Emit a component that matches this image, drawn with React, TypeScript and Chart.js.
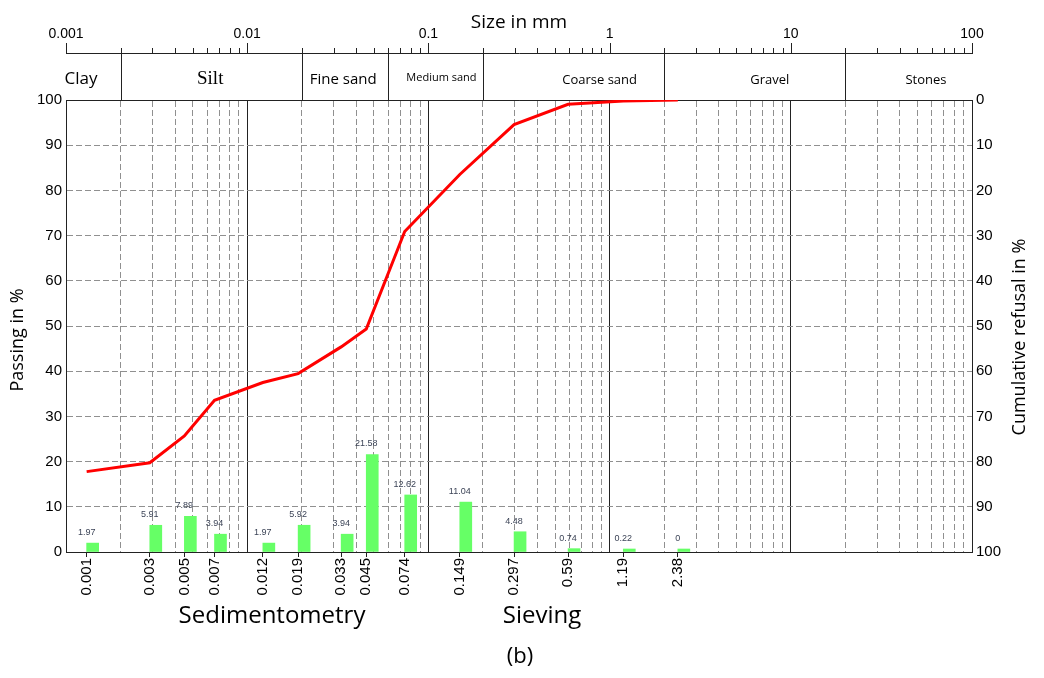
import React, { useEffect, useRef } from 'react';
import { Chart, registerables } from 'chart.js';

Chart.register(...registerables);

// ---- data ----
const sizeLabels = ['0.001', '0.003', '0.005', '0.007', '0.012', '0.019', '0.033', '0.045', '0.074', '0.149', '0.297', '0.59', '1.19', '2.38'];
const sizes = [0.0013, 0.0029, 0.0045, 0.0066, 0.0122, 0.0191, 0.033, 0.0454, 0.074, 0.149, 0.297, 0.59, 1.19, 2.38];
const retained = [1.97, 5.91, 7.89, 3.94, 1.97, 5.92, 3.94, 21.58, 12.62, 11.04, 4.48, 0.74, 0.22, 0];
const passing = [17.78, 19.75, 25.66, 33.55, 37.49, 39.46, 45.38, 49.32, 70.9, 83.52, 94.56, 99.04, 99.78, 100];
const topDecades = [0.001, 0.01, 0.1, 1, 10, 100];
const topTickLabels = ['0.001', '0.01', '0.1', '1', '10', '100'];
const bandEdges = [0.002, 0.02, 0.06, 0.2, 2, 20];
const bandNames = ['Clay', 'Silt', 'Fine sand', 'Medium sand', 'Coarse sand', 'Gravel', 'Stones'];
const bandLabelAt = [0.00121, 0.00625, 0.0339, 0.118, 0.881, 7.66, 55.7];

const SANS = '"Liberation Sans", Arial, sans-serif';
const CAL = '"Open Sans", "Noto Sans", sans-serif';
const SERIF = '"Liberation Serif", "Times New Roman", serif';

const minorTicks: number[] = [];
for (let d = 0; d < 5; d++) {
  const dec = topDecades[d];
  for (let m = 1; m <= 9; m++) minorTicks.push(parseFloat((m * dec).toPrecision(3)));
}
minorTicks.push(100);

const isDecade = (v: number) => {
  if (!v) return false;
  const l = Math.log10(v);
  return Math.abs(l - Math.round(l)) < 1e-6;
};

const bandFonts = [
  `17px ${CAL}`,
  `19px ${SERIF}`,
  `15px ${CAL}`,
  `11px ${CAL}`,
  `13px ${CAL}`,
  `13px ${CAL}`,
  `13px ${CAL}`,
];

const overlay = {
  id: 'overlay',
  afterDatasetsDraw(chart: any) {
    const ctx = chart.ctx;
    const xs = chart.scales.x;
    const meta = chart.getDatasetMeta(1);
    ctx.save();
    ctx.font = `9px ${SANS}`;
    ctx.fillStyle = '#3c4457';
    ctx.textAlign = 'center';
    ctx.textBaseline = 'alphabetic';
    meta.data.forEach((el: any, i: number) => {
      const x = xs.getPixelForValue(sizes[i]);
      ctx.fillText(String(retained[i]), x, el.y - 8);
    });
    ctx.restore();
  },
  afterDraw(chart: any) {
    const ctx = chart.ctx;
    const xt = chart.scales.xt;
    const { left, right, top } = chart.chartArea;
    const axisY = 53;
    ctx.save();
    ctx.strokeStyle = '#222';
    ctx.lineWidth = 1;
    ctx.beginPath();
    ctx.moveTo(left, axisY + 0.5);
    ctx.lineTo(right + 1, axisY + 0.5);
    ctx.stroke();
    minorTicks.forEach((v) => {
      const px = Math.round(xt.getPixelForValue(v)) + 0.5;
      const len = isDecade(v) ? 10 : 5;
      ctx.beginPath();
      ctx.moveTo(px, axisY);
      ctx.lineTo(px, axisY - len);
      ctx.stroke();
    });
    bandEdges.forEach((v) => {
      const px = Math.round(xt.getPixelForValue(v)) + 0.5;
      ctx.beginPath();
      ctx.moveTo(px, axisY);
      ctx.lineTo(px, top);
      ctx.stroke();
    });
    ctx.fillStyle = '#000';
    ctx.font = `14px ${SANS}`;
    ctx.textAlign = 'center';
    ctx.textBaseline = 'alphabetic';
    topDecades.forEach((v, i) => {
      ctx.fillText(topTickLabels[i], xt.getPixelForValue(v), 38);
    });
    ctx.font = `19px ${CAL}`;
    ctx.fillText('Size in mm', (left + right) / 2, 28);
    bandNames.forEach((n, i) => {
      ctx.font = bandFonts[i];
      ctx.fillText(n, xt.getPixelForValue(bandLabelAt[i]), i === 3 ? 81 : 84);
    });
    ctx.font = `24px ${CAL}`;
    ctx.fillText('Sedimentometry', 272, 623);
    ctx.fillText('Sieving', 542, 623);
    ctx.font = `22px ${CAL}`;
    ctx.fillText('(b)', 520, 663);
    ctx.textBaseline = 'middle';
    ctx.save();
    ctx.translate(18, 340);
    ctx.rotate(-Math.PI / 2);
    ctx.font = `18px ${CAL}`;
    ctx.fillText('Passing in %', 0, 0);
    ctx.restore();
    ctx.save();
    ctx.translate(1020, 337);
    ctx.rotate(-Math.PI / 2);
    ctx.font = `18px ${CAL}`;
    ctx.fillText('Cumulative refusal in %', 0, 0);
    ctx.restore();
    ctx.restore();
  },
};

const gridGray = '#909090';
const frame = '#222';

export default function App() {
  const ref = useRef<HTMLCanvasElement | null>(null);
  useEffect(() => {
    document.body.style.margin = '0';
    const canvas = ref.current;
    if (!canvas) return;
    Chart.defaults.font.family = SANS;
    const chart = new Chart(canvas, {
      type: 'bar',
      data: {
        datasets: [
          {
            // empty slot so each bar sits just right of its size tick
            type: 'bar',
            label: '',
            data: [],
            xAxisID: 'x',
            yAxisID: 'y',
            barThickness: 12,
            order: 1,
          } as any,
          {
            type: 'bar',
            label: 'Retained',
            data: sizes.map((s, i) => ({ x: s, y: retained[i] })),
            xAxisID: 'x',
            yAxisID: 'y',
            backgroundColor: '#66ff66',
            borderWidth: 0,
            barThickness: 12,
            minBarLength: 3,
            order: 2,
          } as any,
          {
            type: 'line',
            label: 'Passing',
            data: sizes.map((s, i) => ({ x: s, y: passing[i] })),
            xAxisID: 'x',
            yAxisID: 'y',
            borderColor: '#ff0000',
            borderWidth: 3,
            pointRadius: 0,
            tension: 0,
            order: 0,
          } as any,
        ],
      },
      options: {
        animation: false,
        responsive: false,
        devicePixelRatio: 1,
        layout: { padding: 0 },
        plugins: { legend: { display: false }, tooltip: { enabled: false } },
        scales: {
          x: {
            type: 'logarithmic',
            position: 'bottom',
            min: 0.001,
            max: 100,
            offset: false,
            afterBuildTicks: (s: any) => {
              s.ticks = sizes.map((v) => ({ value: v }));
            },
            afterFit: (s: any) => {
              s.height = 126;
            },
            ticks: {
              autoSkip: false,
              minRotation: 90,
              maxRotation: 90,
              padding: 1,
              color: '#000',
              font: { size: 15, family: SANS },
              callback: (_v: any, i: number) => sizeLabels[i],
            },
            grid: { offset: false, drawOnChartArea: false, drawTicks: true, tickLength: 5, tickColor: frame, color: frame },
            border: { display: true, color: frame, width: 1 },
          },
          xt: {
            type: 'logarithmic',
            position: 'top',
            min: 0.001,
            max: 100,
            offset: false,
            afterBuildTicks: (s: any) => {
              s.ticks = minorTicks.map((v) => ({ value: v }));
            },
            afterFit: (s: any) => {
              s.height = 100;
            },
            ticks: { display: false, autoSkip: false },
            grid: {
              offset: false,
              drawTicks: false,
              drawOnChartArea: true,
              lineWidth: 1,
              color: (c: any) => (c.tick && isDecade(c.tick.value) ? frame : gridGray),
            },
            border: {
              display: true,
              color: frame,
              dash: (c: any) => (c.type === 'tick' && c.tick && !isDecade(c.tick.value) ? [6, 3] : []),
            },
          },
          y: {
            type: 'linear',
            position: 'left',
            min: 0,
            max: 100,
            afterFit: (s: any) => {
              s.width = 66;
            },
            ticks: { stepSize: 10, padding: 4, color: '#000', font: { size: 15, family: SANS } },
            grid: {
              drawTicks: false,
              lineWidth: 1,
              color: (c: any) => (c.tick && (c.tick.value === 0 || c.tick.value === 100) ? frame : gridGray),
            },
            border: {
              display: true,
              color: frame,
              dash: (c: any) => (c.type === 'tick' && c.tick && c.tick.value !== 0 && c.tick.value !== 100 ? [6, 3] : []),
            },
          },
          y2: {
            type: 'linear',
            position: 'right',
            min: 0,
            max: 100,
            reverse: true,
            afterFit: (s: any) => {
              s.width = 72;
            },
            ticks: { stepSize: 10, padding: 4, color: '#000', font: { size: 15, family: SANS } },
            grid: { drawOnChartArea: false, drawTicks: false },
            border: { display: true, color: frame },
          },
        },
      } as any,
      plugins: [overlay],
    });
    return () => chart.destroy();
  }, []);
  return (
    <div style={{ width: 1044, height: 678, background: '#fff' }}>
      <canvas ref={ref} width={1044} height={678} style={{ display: 'block' }} />
    </div>
  );
}
